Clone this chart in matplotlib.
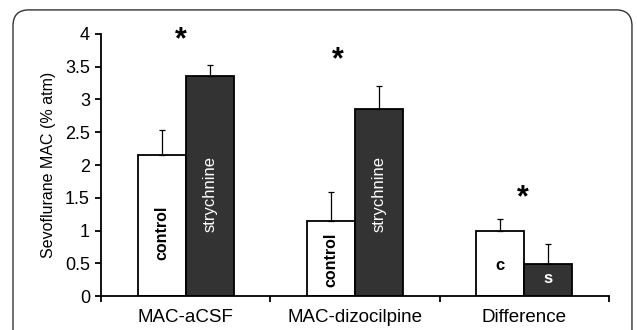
import numpy as np
import matplotlib.pyplot as plt
from matplotlib.patches import FancyBboxPatch

plt.rcParams['font.family'] = ['Liberation Sans', 'DejaVu Sans']

groups = ['MAC-aCSF', 'MAC-dizocilpine', 'Difference']
control = [2.15, 1.14, 1.00]
control_err = [0.38, 0.45, 0.17]
strych = [3.36, 2.86, 0.49]
strych_err = [0.16, 0.34, 0.31]
control_txt = ['control', 'control', 'c']
strych_txt = ['strychnine', 'strychnine', 's']
star_y = [3.9, 3.6, 1.5]

fig = plt.figure(figsize=(6.37, 3.3), dpi=100)
ax = fig.add_axes([0.1586, 0.103, 0.7974, 0.794])

x = np.arange(len(groups)) + 0.5
w = 0.283
ekw = dict(ecolor='black', elinewidth=0.9, capsize=2.5, capthick=0.9)
ax.bar(x - w/2, control, w, color='white', edgecolor='black', linewidth=1.3,
       yerr=[np.zeros(3), control_err], error_kw=ekw)
ax.bar(x + w/2, strych, w, color='#333333', edgecolor='black', linewidth=1.3,
       yerr=[np.zeros(3), strych_err], error_kw=ekw)

# labels inside the bars
ctrl_y = [0.97, 0.55]
for i in range(2):
    ax.text(x[i] - w/2, ctrl_y[i], control_txt[i], rotation=90,
            ha='center', va='center', fontsize=11.5, fontweight='bold', color='black')
    ax.text(x[i] + w/2, 1.56, strych_txt[i], rotation=90,
            ha='center', va='center', fontsize=12, color='white')
ax.text(x[2] - w/2, 0.46, control_txt[2], ha='center', va='center', fontsize=12, fontweight='bold')
ax.text(x[2] + w/2, 0.26, strych_txt[2], ha='center', va='center', fontsize=12, fontweight='bold', color='white')

star_x = [x[0] - 0.03, x[1] - 0.1, x[2] - 0.01]
for sx, sy in zip(star_x, star_y):
    ax.text(sx, sy, '*', ha='center', va='center', fontsize=22, fontweight='bold')

ax.set_xlim(0, 3)
ax.set_ylim(0, 4)
ax.set_yticks(np.arange(0, 4.01, 0.5))
ax.set_yticklabels(['0', '0.5', '1', '1.5', '2', '2.5', '3', '3.5', '4'])
ax.set_xticks([0, 1, 2, 3])
ax.set_xticklabels([])
ax.set_xticks(x, minor=True)
ax.set_xticklabels(groups, minor=True, fontsize=13.5)
ax.tick_params(axis='x', which='minor', length=0, pad=9)
ax.tick_params(axis='x', which='major', direction='out', length=4, width=1.3)
ax.tick_params(axis='y', direction='out', length=4, width=1.3, labelsize=13, pad=4)
ax.set_ylabel('Sevoflurane MAC (% atm)', fontsize=11.5)
ax.yaxis.set_label_coords(-0.088, 0.5)
for s in ['top', 'right']:
    ax.spines[s].set_visible(False)
for s in ['left', 'bottom']:
    ax.spines[s].set_linewidth(1.3)

frame = FancyBboxPatch((0.0204, -0.2), 0.9717, 1.17, boxstyle='round,pad=0,rounding_size=0.025',
                       transform=fig.transFigure, facecolor='none', edgecolor='#333333',
                       linewidth=1.0, clip_on=False, mutation_aspect=637/330)
fig.patches.append(frame)

fig.savefig('out.png', dpi=100)
